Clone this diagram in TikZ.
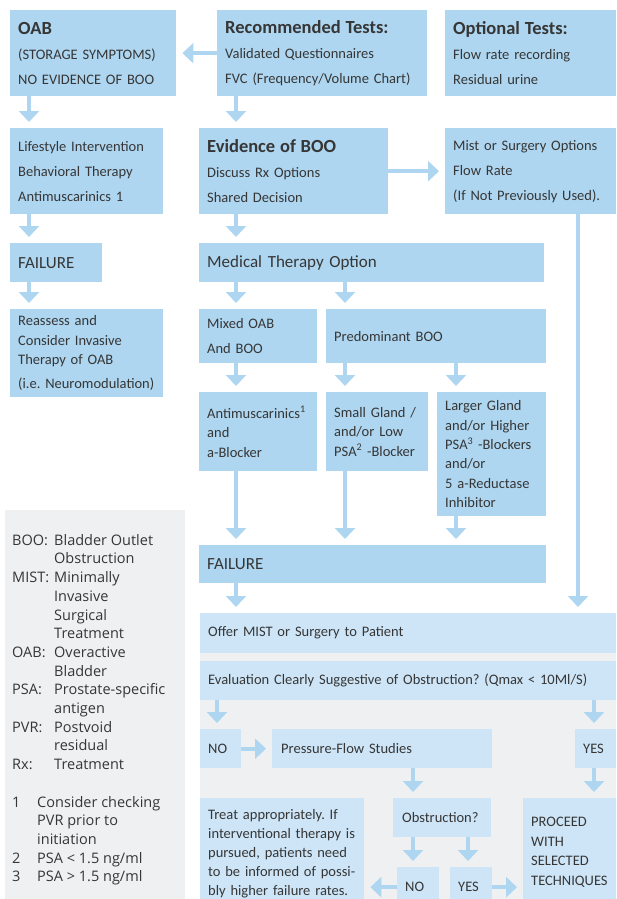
\documentclass[tikz,border=0pt]{standalone}
\usepackage{fontspec}
\setmainfont{Carlito}
\newfontfamily\legendfont{Open Sans}
\usetikzlibrary{arrows.meta}
\frenchspacing
\definecolor{boxblue}{HTML}{AED6F0}
\definecolor{paleblue}{HTML}{CDE5F7}
\definecolor{panel}{HTML}{EFF0F2}
\definecolor{ink}{HTML}{363636}
\newcommand\hd{\fontsize{18.5}{20}\selectfont\bfseries}
\newcommand\bodysize[1]{\fontsize{14.5}{#1}\selectfont}
\tikzset{
  box/.style={fill=boxblue, anchor=north west, inner xsep=8pt, inner ysep=0pt,
    align=left, text=ink, font=\bodysize{25}},
  pale/.style={box, fill=paleblue},
  big/.style={font=\fontsize{17}{20}\selectfont},
  flow/.style={draw=boxblue, line width=4pt, -{Triangle[width=20pt,length=11pt]},
    shorten >=6pt},
}
\begin{document}
\begin{tikzpicture}[x=1pt,y=-1pt]
\useasboundingbox (0,0) rectangle (616,899);
\clip (0,0) rectangle (616,899);

% column positions of the vertical connectors
\coordinate (c1) at (29,0);
\coordinate (c2) at (236,0);
\coordinate (c3) at (345,0);
\coordinate (c4) at (456,0);
\coordinate (c5) at (578,0);
\coordinate (c6) at (217,0);
\coordinate (c7) at (594,0);
\coordinate (c8) at (413,0);
\coordinate (c9) at (468,0);

% grey panels
\node[fill=panel, anchor=north west, minimum width=180pt, minimum height=400pt, inner sep=0pt] (legend) at (5,510) {};
\node[fill=panel, anchor=north west, minimum width=416pt, minimum height=300pt, inner sep=0pt] (lower) at (200,613) {};

% top row
\node[box, text width=150pt, minimum height=86pt] (oab) at (10,10)
  {{\hd OAB}\\(STORAGE SYMPTOMS)\\NO EVIDENCE OF BOO};
\node[box, text width=194pt, minimum height=86pt] (rec) at (217,10)
  {{\hd Recommended Tests:}\\Validated Questionnaires\\FVC (Frequency/Volume Chart)};
\node[box, text width=155pt, minimum height=86pt] (opt) at (445,10)
  {{\hd Optional Tests:}\\Flow rate recording\\Residual urine};

% second row
\node[box, text width=137pt, minimum height=86pt] (life) at (10,128)
  {Lifestyle Intervention\\Behavioral Therapy\\Antimuscarinics 1};
\node[box, text width=173pt, minimum height=86pt] (evid) at (199,128)
  {{\hd Evidence of BOO}\\Discuss Rx Options\\Shared Decision};
\node[box, text width=155pt, minimum height=86pt] (mist) at (445,128)
  {Mist or Surgery Options\\Flow Rate\\(If Not Previously Used).};

% third row
\node[box, big, text width=76pt, minimum height=39pt] (fail1) at (10,243) {FAILURE};
\node[box, big, text width=329pt, minimum height=39pt] (med) at (199,243) {Medical Therapy Option};

% fourth row
\node[box, font=\bodysize{19.3}, text width=137pt, minimum height=88pt] (reass) at (10,309)
  {Reassess and\\Consider Invasive\\Therapy of OAB\\[5pt]\mbox{(i.e. Neuromodulation)}};
\node[box, text width=102pt, minimum height=54pt] (mixed) at (199,309)
  {Mixed OAB\\And BOO};
\node[box, text width=204pt, minimum height=54pt] (pred) at (326,309) {Predominant BOO};

% fifth row
\node[box, font=\bodysize{19.5}, text width=102pt, minimum height=79pt] (anti) at (199,392)
  {Antimuscarinics\textsuperscript{1}\\and\\a-Blocker};
\node[box, font=\bodysize{19.5}, text width=86pt, minimum height=79pt] (small) at (326,392)
  {Small Gland /\\and/or Low\\PSA\textsuperscript{2} -Blocker};
\node[box, font=\bodysize{19.3}, text width=93pt, minimum height=124pt] (large) at (437,392)
  {Larger Gland\\and/or Higher\\PSA\textsuperscript{3} -Blockers\\and/or\\5 a-Reductase\\Inhibitor};

\node[box, big, text width=331pt, minimum height=38pt] (fail2) at (199,545) {FAILURE};

% lower panel
\node[pale, text width=400pt, minimum height=40pt] (offer) at (200,613) {Offer MIST or Surgery to Patient};
\node[pale, text width=400pt, minimum height=39pt] (eval) at (200,661)
  {Evaluation Clearly Suggestive of Obstruction? (Qmax < 10Ml/S)};
\node[pale, text width=25pt, minimum height=39pt] (no1) at (200,729) {NO};
\node[pale, inner xsep=9pt, text width=202pt, minimum height=39pt] (press) at (272,729) {Pressure-Flow Studies};
\node[pale, text width=25pt, minimum height=39pt] (yes1) at (575,729) {YES};
\node[pale, font=\bodysize{19}, text width=148pt, minimum height=111pt] (treat) at (200,798)
  {Treat appropriately. If\\interventional therapy is\\pursued, patients need\\to be informed of possi-\\bly higher failure rates.};
\node[pale, inner xsep=9pt, text width=80pt, minimum height=39pt] (obst) at (393,798) {Obstruction?};
\node[pale, text width=26pt, minimum height=40pt] (no2) at (397,867) {NO};
\node[pale, text width=26pt, minimum height=40pt] (yes2) at (450,867) {YES};
\node[pale, font=\bodysize{19.8}, text width=80pt, minimum height=108pt] (proc) at (523,798)
  {PROCEED\\WITH\\SELECTED\\TECHNIQUES};

% legend text
\node[anchor=north west, inner sep=0pt, text=ink, font=\legendfont\fontsize{14.5}{18.7}\selectfont] (abbr) at (12,532)
  {\begin{tabular}{@{}p{42pt}@{}l@{}}
   BOO: & Bladder Outlet\\
        & Obstruction\\
   MIST: & Minimally\\
        & Invasive\\
        & Surgical\\
        & Treatment\\
   OAB: & Overactive\\
        & Bladder\\
   PSA: & Prostate-specific\\
        & antigen\\
   PVR: & Postvoid\\
        & residual\\
   Rx:  & Treatment\\
   \multicolumn{2}{@{}l@{}}{}\\
   \multicolumn{2}{@{}l@{}}{\makebox[25pt][l]{1}Consider checking}\\
   \multicolumn{2}{@{}l@{}}{\makebox[25pt][l]{}PVR prior to}\\
   \multicolumn{2}{@{}l@{}}{\makebox[25pt][l]{}initiation}\\
   \multicolumn{2}{@{}l@{}}{\makebox[25pt][l]{2}PSA < 1.5 ng/ml}\\
   \multicolumn{2}{@{}l@{}}{\makebox[25pt][l]{3}PSA > 1.5 ng/ml}
   \end{tabular}};

% connectors
\draw[flow] (rec.west) -- (rec.west -| oab.east);
\draw[flow] (oab.south -| c1) -- (life.north -| c1);
\draw[flow] (rec.south -| c2) -- (evid.north -| c2);
\draw[flow] (evid.east) -- (evid.east -| mist.west);
\draw[flow] (life.south -| c1) -- (fail1.north -| c1);
\draw[flow] (evid.south -| c2) -- (med.north -| c2);
\draw[flow] (fail1.south -| c1) -- (reass.north -| c1);
\draw[flow] (med.south -| c2) -- (mixed.north -| c2);
\draw[flow] (med.south -| c3) -- (pred.north -| c3);
\draw[flow] (mixed.south -| c2) -- (anti.north -| c2);
\draw[flow] (pred.south -| c3) -- (small.north -| c3);
\draw[flow] (pred.south -| c4) -- (large.north -| c4);
\draw[flow] (anti.south -| c2) -- (fail2.north -| c2);
\draw[flow] (small.south -| c3) -- (fail2.north -| c3);
\draw[flow] (large.south -| c4) -- (fail2.north -| c4);
\draw[flow] (fail2.south -| c2) -- (offer.north -| c2);
\draw[flow, line width=3.5pt] (mist.south -| c5) -- (offer.north -| c5);
\draw[flow] (eval.south -| c6) -- (no1.north -| c6);
\draw[flow] (eval.south -| c7) -- (yes1.north -| c7);
\draw[flow] (no1.east) -- (press.west);
\draw[flow] (press.south -| c8) -- (obst.north -| c8);
\draw[flow] (yes1.south -| c7) -- (proc.north -| c7);
\draw[flow] (obst.south -| c8) -- (no2.north -| c8);
\draw[flow] (obst.south -| c9) -- (yes2.north -| c9);
\draw[flow] (no2.west) -- (no2.west -| treat.east);
\draw[flow] (yes2.east) -- (yes2.east -| proc.west);
\end{tikzpicture}
\end{document}
